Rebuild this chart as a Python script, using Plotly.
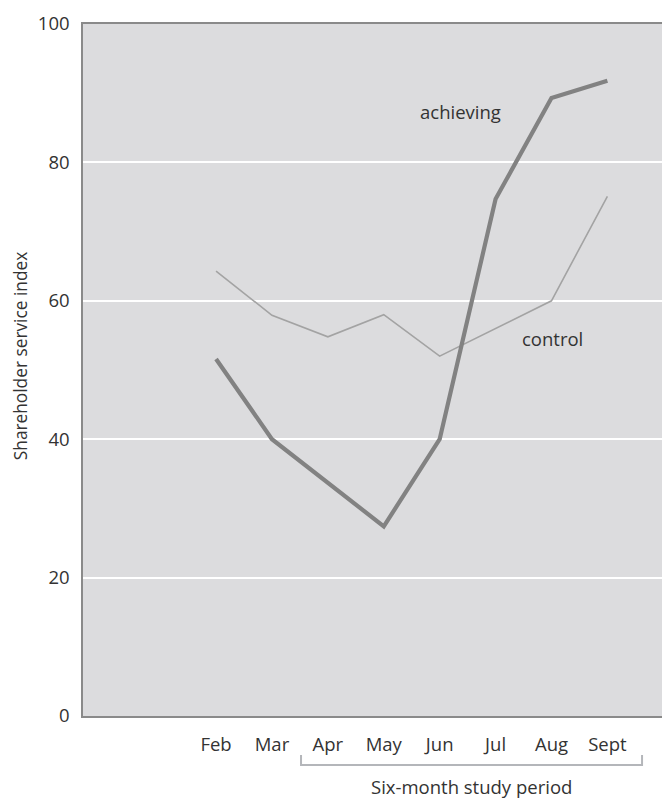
import plotly.graph_objects as go

months = ["Feb", "Mar", "Apr", "May", "Jun", "Jul", "Aug", "Sept"]
achieving = [51.6, 40.0, None, 27.4, 40.0, 74.7, 89.3, 91.8]
control = [64.3, 57.9, 54.8, 58.0, 52.0, None, 60.0, 75.1]
y_ticks = [0, 20, 40, 60, 80, 100]

FONT = "Open Sans"
FS = 18.5
TXT = "#333333"
x_idx = list(range(len(months)))

fig = go.Figure()
fig.add_trace(go.Scatter(x=x_idx, y=control, mode="lines", connectgaps=True,
                         line=dict(color="#a3a3a3", width=1.6), hoverinfo="skip"))
fig.add_trace(go.Scatter(x=x_idx, y=achieving, mode="lines", connectgaps=True,
                         line=dict(color="#828282", width=4.2), hoverinfo="skip"))

fig.add_annotation(x=4.38, y=87.4, text="achieving", showarrow=False,
                   font=dict(family=FONT, size=FS, color=TXT))
fig.add_annotation(x=6.01, y=54.5, text="control", showarrow=False,
                   font=dict(family=FONT, size=FS, color=TXT))

# y-axis title as rotated annotation
fig.add_annotation(x=-0.1073, y=0.52, xref="paper", yref="paper",
                   xanchor="center", yanchor="middle", textangle=-90,
                   text="Shareholder service index", showarrow=False,
                   font=dict(family=FONT, size=17.3, color=TXT))

# bracket for study period
bx0, bx1 = 1.52, 7.62
fig.add_shape(type="path", xref="x", yref="paper",
              path=f"M {bx0},-0.0564 L {bx0},-0.0708 L {bx1},-0.0708 L {bx1},-0.0564",
              line=dict(color="#b4b6ba", width=2))
fig.add_annotation(x=(bx0 + bx1) / 2, y=-0.1026, xref="x", yref="paper",
                   yanchor="middle", xanchor="center",
                   text="Six-month study period", showarrow=False,
                   font=dict(family=FONT, size=FS, color=TXT))

fig.update_layout(
    width=662, height=790,
    margin=dict(l=75, r=0, t=16, b=82),
    paper_bgcolor="white", plot_bgcolor="#dcdcde",
    showlegend=False,
    font=dict(family=FONT, size=FS, color=TXT),
)
fig.update_xaxes(
    range=[-2.38, 8.12], tickmode="array", tickvals=x_idx, ticktext=months,
    showgrid=False, zeroline=False, showline=True, mirror=True,
    linecolor="#8a8a8a", linewidth=1.5, ticks="", ticklabelstandoff=11,
    tickfont=dict(family=FONT, size=FS, color=TXT),
)
fig.update_yaxes(
    range=[0, 100], tickmode="array", tickvals=y_ticks,
    showgrid=True, gridcolor="white", gridwidth=1.5, zeroline=False,
    showline=True, linecolor="#8a8a8a", linewidth=1.5, ticks="",
    ticklabelstandoff=8,
    tickfont=dict(family=FONT, size=FS, color=TXT),
)

fig.write_html("out.html")
